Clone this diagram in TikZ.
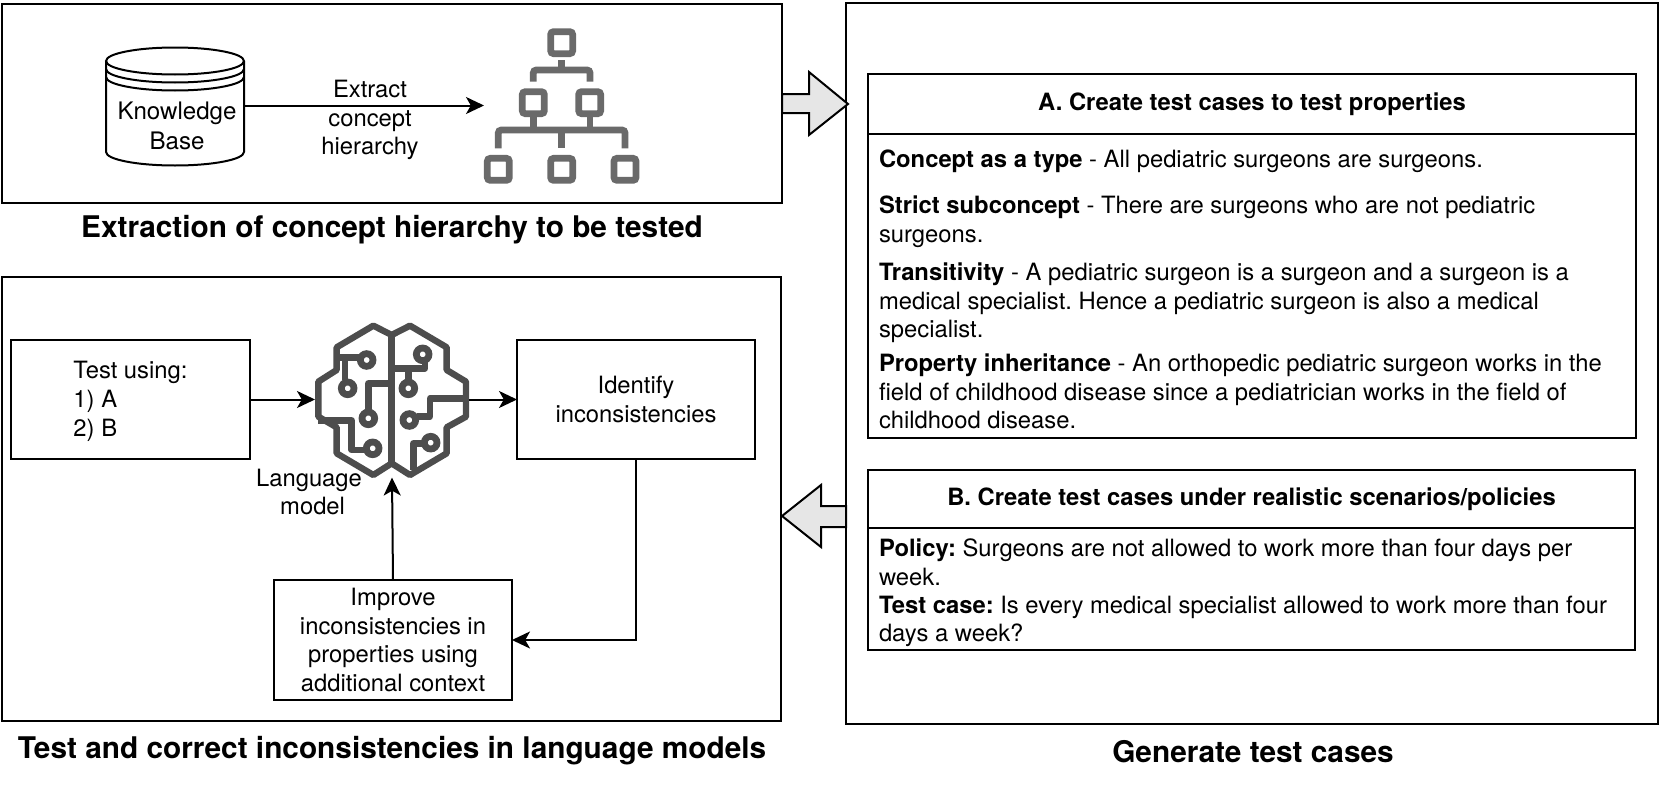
\documentclass[tikz,border=0pt]{standalone}
\usepackage{fontspec}
\setmainfont{TeX Gyre Heros}
\usetikzlibrary{arrows.meta,calc}
\definecolor{brainc}{HTML}{4D4D4D}
\definecolor{hierc}{HTML}{6A6A6A}
\definecolor{blockc}{HTML}{E6E6E6}
\tikzset{
  wire/.style={line width=1pt,-{Stealth[length=9pt,width=8.5pt,inset=2.4pt]}},
  frame/.style={draw,line width=1pt,inner sep=0pt,outer sep=0pt,anchor=north west},
  ghost/.style={inner sep=0pt,outer sep=0pt},
  body/.style={inner sep=0pt,outer sep=0pt,font=\fontsize{11.9}{14.2}\selectfont},
  midf/.style={inner sep=0pt,outer sep=0pt,font=\fontsize{11.9}{14.4}\selectfont},
  para/.style={body,anchor=north west,align=left},
  mid/.style={midf,align=center},
  head/.style={inner sep=0pt,outer sep=0pt,font=\fontsize{11.9}{14.2}\selectfont\bfseries},
  title/.style={inner sep=0pt,outer sep=0pt,anchor=base,font=\fontsize{14.9}{16}\selectfont\bfseries},
  blockarrow/.style={draw,fill=blockc,line width=1pt,line join=miter},
  brainline/.style={draw=brainc,line width=3.2pt,line join=round},
  ring/.style={draw=brainc,line width=3.4pt},
  hierline/.style={draw=hierc,line width=3.4pt,rounded corners=1.5pt},
  kbline/.style={draw,line width=1pt},
}
\begin{document}
\frenchspacing
\begin{tikzpicture}[x=0.5pt,y=-0.5pt]
\useasboundingbox (0,0) rectangle (1660,787);
% frames
\node[frame,minimum width=390pt,minimum height=99.5pt] (top) at (2,4) {};
\node[frame,minimum width=389.5pt,minimum height=222pt] (bot) at (2,277) {};
\node[frame,minimum width=406pt,minimum height=360.5pt] (right) at (846,3) {};
% block arrows
\coordinate (tipR) at (848,104);
\coordinate (tipL) at (782,516);
\draw[blockarrow] (tipR) -- ++(-39,-32) -- ++(0,22) -- ++(-27,0) -- ++(0,19) -- ++(27,0) -- ++(0,22) -- cycle;
\draw[blockarrow] (tipL) -- ++(39,-31) -- ++(0,21) -- ++(25,0) -- ++(0,21) -- ++(-25,0) -- ++(0,20) -- cycle;
% knowledge base
\node[ghost,minimum width=69pt,minimum height=59.5pt] (kb) at (175,105.5) {};
\draw[kbline] (175,61) ellipse [x radius=69,y radius=13.5];
\draw[kbline] (106,69) arc [start angle=180,end angle=0,x radius=69,y radius=13.5];
\draw[kbline] (106,77) arc [start angle=180,end angle=0,x radius=69,y radius=13.5];
\draw[kbline] (106,61) -- (106,152) arc [start angle=180,end angle=0,x radius=69,y radius=13.5] -- (244,61);
\node[ghost,align=center,font=\fontsize{12.05}{15}\selectfont] (kbl) at (177,126) {Knowledge\\Base};
% hierarchy icon
\node[ghost,minimum width=77.5pt,minimum height=77.5pt] (hier) at (561.5,105.5) {};
\begin{scope}[shift={(470,20)},x=0.16667pt,y=-0.16667pt]
  \foreach \cx/\cy in {275/68,190/248,359/248,85/448,275/448,465/448}{
    \draw[hierline] (\cx-33,\cy-33) rectangle (\cx+33,\cy+33);
  }
  \draw[draw=hierc,line width=3.3pt] (275,120) -- (275,150);
  \draw[hierline] (190,185) -- (190,150) -- (360,150) -- (360,185);
  \draw[draw=hierc,line width=3.3pt] (190,290) -- (190,330) (360,290) -- (360,330) (275,330) -- (275,385);
  \draw[hierline] (85,385) -- (85,330) -- (465,330) -- (465,385);
\end{scope}
\draw[wire] (kb.east) -- (hier.west);
\node[mid] (ext) at (370,120) {Extract\\concept\\hierarchy};
% titles
\node[title] (t1) at (392,237) {Extraction of concept hierarchy to be tested};
\node[title] (t2) at (392,758) {Test and correct inconsistencies in language models};
\node[title] (t3) at (1253,762) {Generate test cases};
% language model boxes
\node[frame,align=left,inner sep=0pt,font=\fontsize{11.9}{14.6}\selectfont,minimum width=119.5pt,minimum height=59.5pt] (test) at (11,340) {\rule{0pt}{10.8pt}Test using:\\1) A\\2) B};
\node[frame,midf,align=center,draw,anchor=north west,minimum width=119pt,minimum height=59.5pt] (ident) at (517,340) {Identify\\inconsistencies};
\node[frame,midf,align=center,draw,anchor=north west,minimum width=119pt,minimum height=60pt] (impr) at (274,580) {Improve\\inconsistencies in\\properties using\\additional context};
% brain
\node[ghost,minimum width=77pt,minimum height=78pt] (brain) at (392,399.5) {};
\begin{scope}[shift={(310,315)},x=0.16667pt,y=-0.16667pt]
  \draw[brainline] (245,60) -- (190,32) -- (80,97) -- (80,165) -- (25,200) -- (25,305) -- (80,337) -- (80,415) -- (190,480) -- (245,445)
     -- (300,480) -- (410,415) -- (410,337) -- (468,305) -- (468,200) -- (410,165) -- (410,97) -- (300,32) -- cycle;
  \draw[brainline] (245,60) -- (245,445);
  \draw[brainline] (80,128) -- (150,128);
  \draw[brainline] (105,128) -- (105,195);
  \draw[brainline] (175,290) -- (175,205) -- (245,205);
  \draw[brainline] (25,316) -- (125,316) -- (125,405) -- (165,405);
  \draw[brainline] (345,135) -- (345,160) -- (245,160);
  \draw[brainline] (295,160) -- (295,195);
  \draw[brainline] (468,250) -- (360,250) -- (360,305) -- (320,305);
  \draw[brainline] (342,385) -- (310,385) -- (310,465);
  \foreach \cx/\cy in {170/135,113/220,175/310,188/400,338/118,295/220,298/315,362/383}{
    \draw[ring] (\cx,\cy) circle [radius=19];
  }
\end{scope}
\node[mid] (lang) at (309,492) {Language\\\hspace*{3.6pt}model};
% connectors
\draw[wire] (test.east) -- (brain.west);
\draw[wire] (brain.east) -- (ident.west);
\draw[wire] (ident.south) |- (impr.east);
\draw[wire] (impr.north) -- (brain.south);
% A
\node[frame,minimum width=384pt,minimum height=30pt] (ah) at (868,74) {};
\node[frame,minimum width=384pt,minimum height=152pt] (ab) at (868,134) {};
\node[head] (aht) at (ah.center) {A. Create test cases to test properties};
\node[para] (a1) at (879,150) {\textbf{Concept as a type} - All pediatric surgeons are surgeons.};
\node[para] (a2) at (879,196) {\textbf{Strict subconcept} - There are surgeons who are not pediatric\\surgeons.};
\node[para] (a3) at (879,263) {\textbf{Transitivity} - A pediatric surgeon is a surgeon and a surgeon is a\\medical specialist. Hence a pediatric surgeon is also a medical\\specialist.};
\node[para] (a4) at (879,354) {\textbf{Property inheritance} - An orthopedic pediatric surgeon works in the\\field of childhood disease since a pediatrician works in the field of\\childhood disease.};
% B
\node[frame,minimum width=383.5pt,minimum height=29pt] (bh) at (868,470) {};
\node[frame,minimum width=383.5pt,minimum height=61pt] (bb) at (868,528) {};
\node[head] (bht) at (bh.center) {B. Create test cases under realistic scenarios/policies};
\node[para] (b1) at (879,539) {\textbf{Policy:} Surgeons are not allowed to work more than four days per\\week.\\\textbf{Test case:} Is every medical specialist allowed to work more than four\\days a week?};
\end{tikzpicture}
\end{document}
